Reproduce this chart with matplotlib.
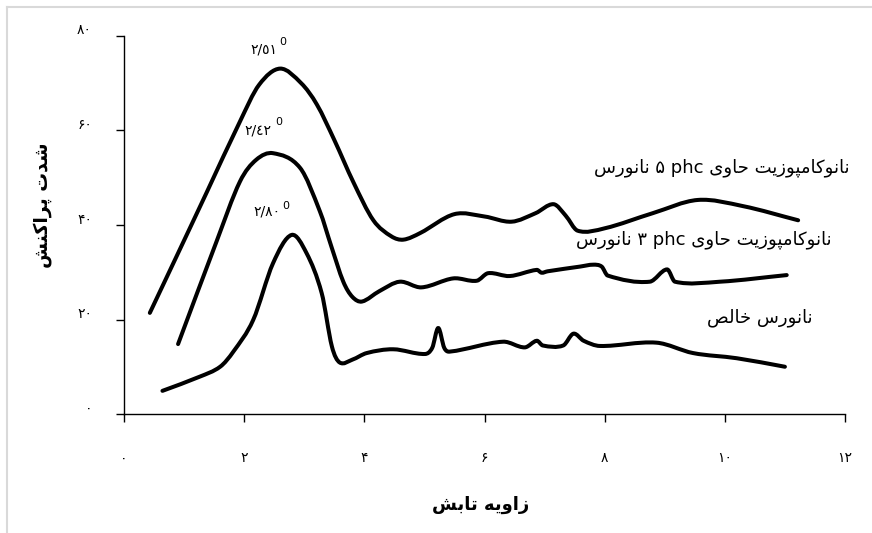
import numpy as np
import matplotlib
matplotlib.use("Agg")
import matplotlib.pyplot as plt
from matplotlib.path import Path
from matplotlib.patches import PathPatch
from matplotlib.lines import Line2D
from matplotlib.transforms import ScaledTranslation

plt.rcParams['font.family'] = ['DejaVu Sans']

# --- data ---
x_phc5 = [0.43, 0.88, 1.38, 1.93, 2.25, 2.60, 2.95, 3.21, 3.50, 3.82, 4.15, 4.45, 4.65, 4.93,
          5.50, 6.00, 6.45, 6.85, 7.15, 7.35, 7.55, 8.00, 8.80, 9.55, 10.30, 11.22]
y_phc5 = [21.4, 33.5, 47.0, 61.9, 69.7, 73.1, 70.0, 65.5, 58.0, 49.0, 41.0, 37.6, 36.9, 38.3,
          42.3, 41.8, 40.7, 42.5, 44.4, 42.0, 38.8, 39.3, 42.5, 45.3, 44.0, 41.0]

x_phc3 = [0.90, 1.54, 1.93, 2.20, 2.48, 2.93, 3.26, 3.45, 3.65, 3.80, 3.96, 4.25, 4.59, 4.95,
          5.48, 5.87, 6.06, 6.42, 6.87, 6.95, 7.05, 7.59, 7.81, 7.95, 8.05, 8.75, 9.04, 9.17,
          9.92, 11.03]
y_phc3 = [14.8, 36.5, 49.2, 53.8, 55.2, 52.1, 42.9, 35.5, 28.0, 24.8, 23.8, 26.0, 28.0, 26.8,
          28.7, 28.2, 29.8, 29.2, 30.5, 29.9, 30.2, 31.2, 31.6, 31.2, 29.3, 28.0, 30.6, 28.0,
          28.0, 29.4]

x_pure = [0.64, 1.26, 1.60, 1.82, 2.15, 2.48, 2.79, 3.04, 3.29, 3.46, 3.59, 3.80, 4.04, 4.48,
          5.01, 5.13, 5.23, 5.33, 5.42, 6.31, 6.67, 6.87, 6.97, 7.31, 7.48, 7.65, 7.92, 8.86,
          9.47, 10.20, 11.00]
y_pure = [4.9, 7.9, 10.0, 13.2, 19.9, 31.9, 37.9, 34.0, 25.6, 14.3, 10.9, 11.5, 12.9, 13.7,
          12.7, 14.0, 18.2, 14.0, 13.2, 15.3, 14.1, 15.5, 14.5, 14.5, 17.0, 15.5, 14.4, 15.1,
          12.9, 11.8, 10.0]

x_ticks = [0, 2, 4, 6, 8, 10, 12]
x_tick_labels = ['۰', '۲', '۴', '۶', '۸', '۱۰', '۱۲']
y_ticks = [0, 20, 40, 60, 80]
y_tick_labels = ['۰', '۲۰', '۴۰', '۶۰', '۸۰']

peak_labels = ['٢/٥١', '٢/٤٢', '٢/٨٠']

# --- minimal Persian shaping (matplotlib has no RTL shaping) ---
FORMS = {
    'ا': ('\uFE8D', '\uFE8E', None, None),
    'ب': ('\uFE8F', '\uFE90', '\uFE91', '\uFE92'),
    'پ': ('\uFB56', '\uFB57', '\uFB58', '\uFB59'),
    'ت': ('\uFE95', '\uFE96', '\uFE97', '\uFE98'),
    'ح': ('\uFEA1', '\uFEA2', '\uFEA3', '\uFEA4'),
    'خ': ('\uFEA5', '\uFEA6', '\uFEA7', '\uFEA8'),
    'د': ('\uFEA9', '\uFEAA', None, None),
    'ر': ('\uFEAD', '\uFEAE', None, None),
    'ز': ('\uFEAF', '\uFEB0', None, None),
    'س': ('\uFEB1', '\uFEB2', '\uFEB3', '\uFEB4'),
    'ش': ('\uFEB5', '\uFEB6', '\uFEB7', '\uFEB8'),
    'ص': ('\uFEB9', '\uFEBA', '\uFEBB', '\uFEBC'),
    'ک': ('\uFB8E', '\uFB8F', '\uFB90', '\uFB91'),
    'ل': ('\uFEDD', '\uFEDE', '\uFEDF', '\uFEE0'),
    'م': ('\uFEE1', '\uFEE2', '\uFEE3', '\uFEE4'),
    'ن': ('\uFEE5', '\uFEE6', '\uFEE7', '\uFEE8'),
    'ه': ('\uFEE9', '\uFEEA', '\uFEEB', '\uFEEC'),
    'و': ('\uFEED', '\uFEEE', None, None),
    'ی': ('\uFBFC', '\uFBFD', '\uFBFE', '\uFBFF'),
}


def fa(s):
    out = []
    for i, ch in enumerate(s):
        if ch not in FORMS:
            out.append(ch)
            continue
        prev = s[i - 1] if i > 0 else ''
        nxt = s[i + 1] if i < len(s) - 1 else ''
        j_prev = prev in FORMS and FORMS[prev][2] is not None
        j_next = nxt in FORMS and FORMS[ch][2] is not None
        iso, fin, ini, med = FORMS[ch]
        if j_prev and j_next:
            out.append(med)
        elif j_prev:
            out.append(fin)
        elif j_next:
            out.append(ini)
        else:
            out.append(iso)
    return ''.join(out)[::-1]


def smooth(xs, ys):
    xs = np.asarray(xs, float)
    ys = np.asarray(ys, float)
    n = len(xs)
    m = np.zeros(n)
    for i in range(n):
        a, b = max(i - 1, 0), min(i + 1, n - 1)
        m[i] = (ys[b] - ys[a]) / (xs[b] - xs[a])
    verts = [(xs[0], ys[0])]
    codes = [Path.MOVETO]
    for i in range(n - 1):
        dx = xs[i + 1] - xs[i]
        verts += [(xs[i] + dx / 3, ys[i] + m[i] * dx / 3),
                  (xs[i + 1] - dx / 3, ys[i + 1] - m[i + 1] * dx / 3),
                  (xs[i + 1], ys[i + 1])]
        codes += [Path.CURVE4] * 3
    return Path(verts, codes)


fig = plt.figure(figsize=(8.72, 5.33), dpi=100)
ax = fig.add_axes([124 / 872, 1 - 414 / 533, (845 - 124) / 872, (414 - 36) / 533])

for xs, ys in [(x_phc5, y_phc5), (x_phc3, y_phc3), (x_pure, y_pure)]:
    ax.add_patch(PathPatch(smooth(xs, ys), fill=False, lw=2.9, edgecolor='black',
                           capstyle='round', joinstyle='round'))

ax.set_xlim(0, 12)
ax.set_ylim(0, 80)
ax.spines['top'].set_visible(False)
ax.spines['right'].set_visible(False)
for sp in ['left', 'bottom']:
    ax.spines[sp].set_linewidth(1.0)
ax.set_xticks(x_ticks)
ax.set_xticklabels(x_tick_labels)
ax.set_yticks(y_ticks)
ax.set_yticklabels(y_tick_labels)
ax.tick_params(axis='x', direction='out', length=6, width=1, pad=21, labelsize=10)
ax.tick_params(axis='y', direction='out', length=6, width=1, pad=17, labelsize=10)
for lab in ax.get_yticklabels():
    lab.set_transform(lab.get_transform() + ScaledTranslation(0, 7 / 100, fig.dpi_scale_trans))

# peak position labels (main text right edge, superscript left edge)
peak_pos = [(2.545, 77.1, 2.58, 78.8), (2.46, 59.9, 2.51, 61.7), (2.60, 42.9, 2.64, 44.1)]
for lab, (xr, yr, xs_, ys_) in zip(peak_labels, peak_pos):
    ax.text(xr, yr, lab, ha='right', va='center', fontsize=10)
    ax.text(xs_, ys_, '0', ha='left', va='center', fontsize=8)

ax.text(12.08, 52.1, fa('نانورس') + ' ۵ phc ' + fa('نانوکامپوزیت حاوی'),
        ha='right', va='center', fontsize=13)
ax.text(11.78, 36.9, fa('نانورس') + ' ۳ phc ' + fa('نانوکامپوزیت حاوی'),
        ha='right', va='center', fontsize=13)
ax.text(11.46, 20.3, fa('نانورس خالص'), ha='right', va='center', fontsize=13)

fig.text(481 / 872, 1 - 505 / 533, fa('زاویه تابش'), ha='center', va='center',
         fontsize=13, fontweight='bold')
fig.text(42 / 872, 1 - 205 / 533, fa('شدت پراکنش'), ha='center', va='center',
         fontsize=13.5, fontweight='bold', rotation=90)

# light frame of the original chart area
fig.add_artist(Line2D([7 / 872, 1], [1 - 7 / 533, 1 - 7 / 533], color='#d9d9d9', lw=1.5))
fig.add_artist(Line2D([7 / 872, 7 / 872], [0, 1 - 7 / 533], color='#d9d9d9', lw=1.5))

fig.savefig('out.png', dpi=100)
